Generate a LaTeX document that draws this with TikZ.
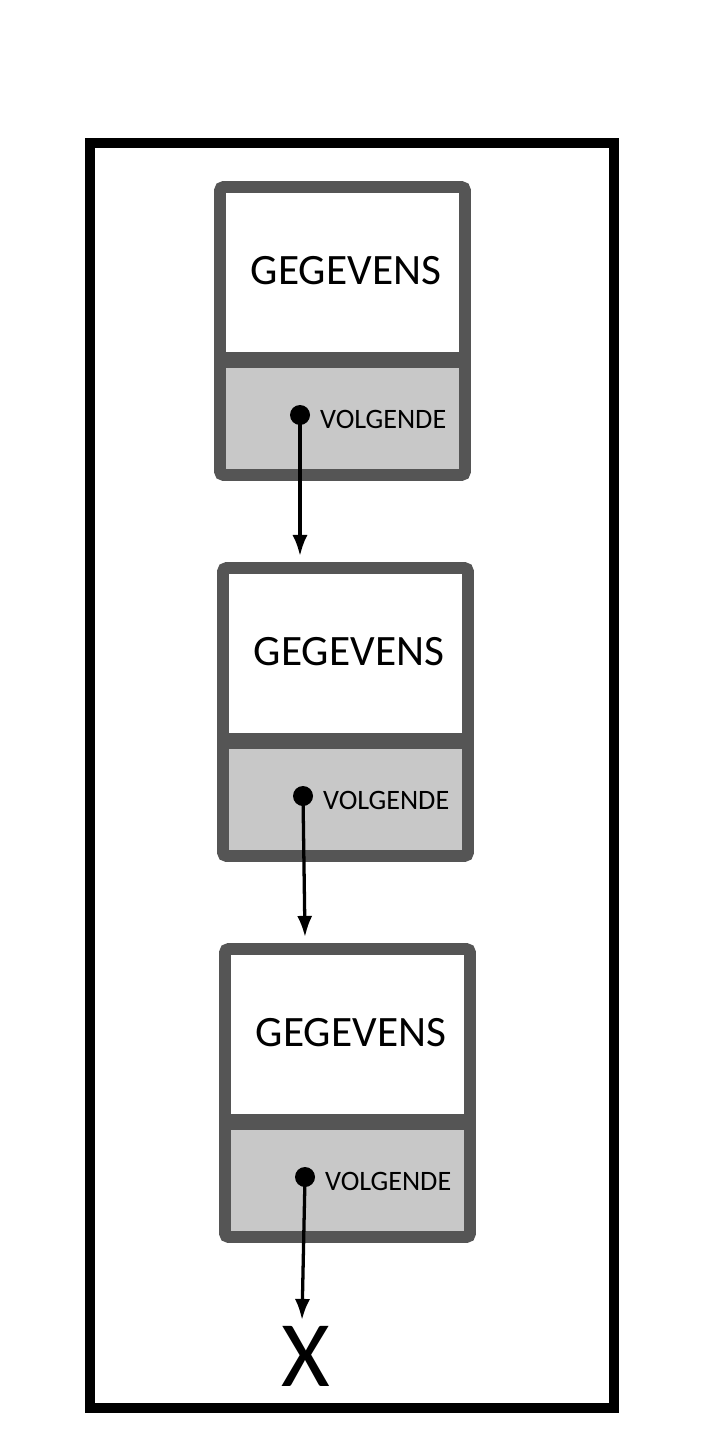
\documentclass[tikz,border=0pt]{standalone}
\usepackage{fontspec}
\setmainfont{Carlito}
\usetikzlibrary{arrows.meta}
\definecolor{rim}{HTML}{555555}
\definecolor{lower}{HTML}{C8C8C8}
\tikzset{
  ptr/.style={-{Latex[length=18pt,width=13pt]}, line width=2.8pt},
  datalbl/.style={font=\fontsize{37}{40}\selectfont, inner sep=0pt},
  nextlbl/.style={font=\fontsize{24}{26}\selectfont, inner sep=0pt, anchor=west}
}
\begin{document}
\begin{tikzpicture}[x=0.03cm, y=-0.03cm]
				\useasboundingbox (0,0) rectangle (720,1437);
				\fill[white] (0,0) rectangle (720,1437);
				% outer frame
				\draw[line width=8pt] (90,143) rectangle (614,1408);
				
				% nodes
				\foreach \i/\x/\y in {1/215/182, 2/218/563, 3/220/944} {
					\fill[lower] (\x+5,\y+178) rectangle (\x+250,\y+293);
					\draw[rim, line width=10pt, rounded corners=3pt] (\x+5,\y+5) rectangle (\x+250,\y+293);
					\draw[rim, line width=14pt] (\x+5,\y+178) -- (\x+250,\y+178);
					\node[datalbl] (data\i) at (\x+131,\y+89) {GEGEVENS};
					\fill (\x+85,\y+233) circle (0.3cm);
					\coordinate (ptr\i) at (\x+85,\y+233);
					\node[nextlbl] (next\i) at (\x+105,\y+237) {VOLGENDE};
				}
				
				% pointers
				\coordinate (in2) at (300,556);
				\coordinate (in3) at (305,937);
				\node[font=\fontsize{80}{80}\selectfont, inner sep=0pt] (nil) at (306,1356) {X};
				\draw[ptr] (ptr1) -- (in2);
				\draw[ptr] (ptr2) -- (in3);
				\draw[ptr] (ptr3) -- (302,1320);
			\end{tikzpicture}
\end{document}
